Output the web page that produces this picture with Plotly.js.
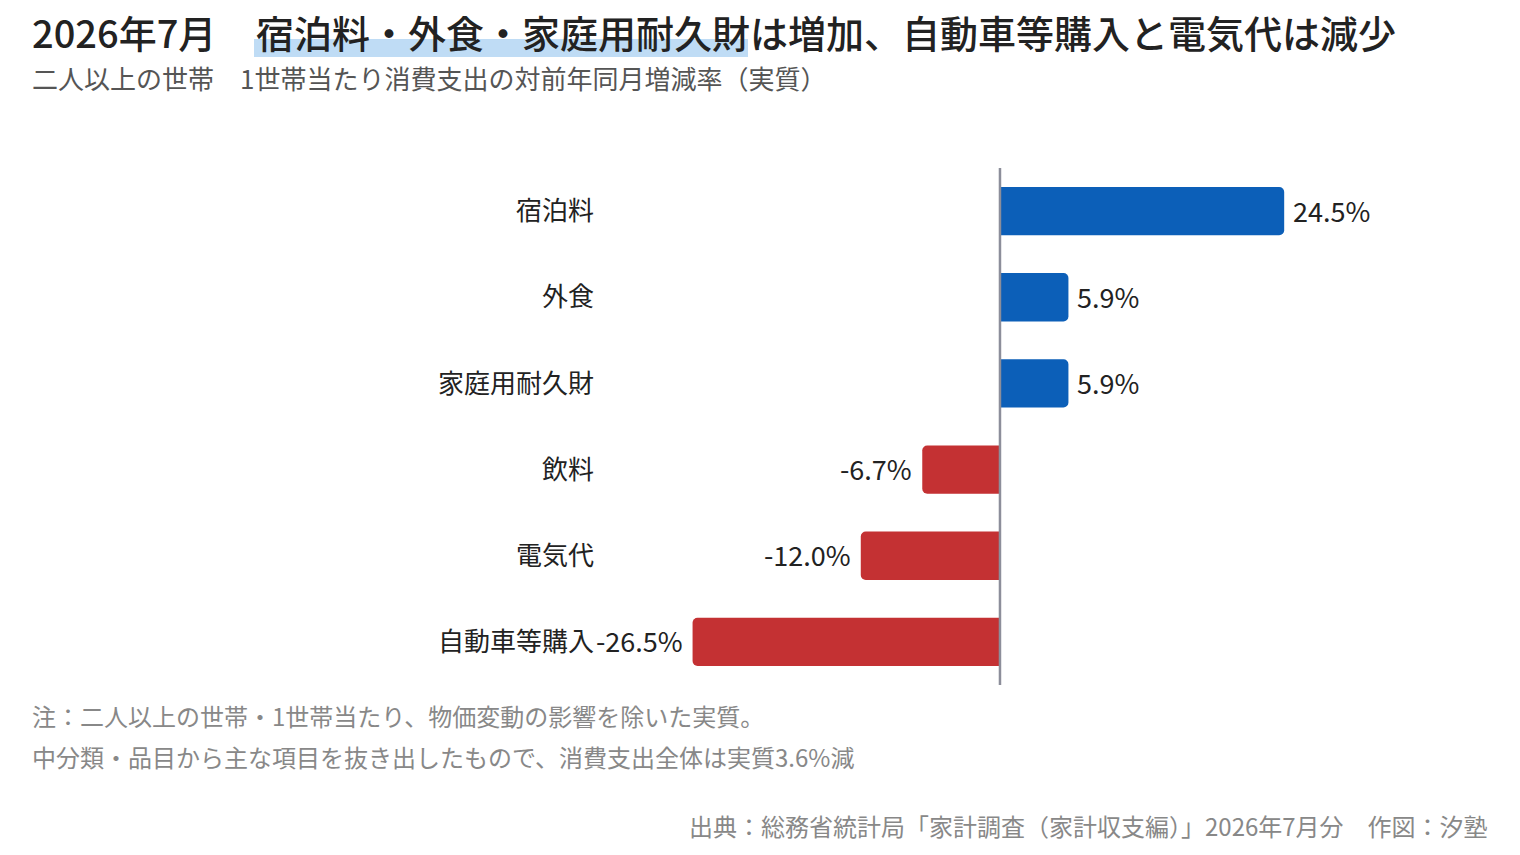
<!DOCTYPE html>
<html>
<head>
<meta charset="utf-8">
<script src="https://cdn.plot.ly/plotly-3.0.1.min.js"></script>
<style>
  html, body { margin: 0; padding: 0; background: #fff; }
  #chart { width: 1520px; height: 855px; }
</style>
</head>
<body>
<div id="chart"></div>
<script>
// 品目と対前年同月増減率（実質, %）
const categories = ['宿泊料', '外食', '家庭用耐久財', '飲料', '電気代', '自動車等購入'];
const changeRates = [24.5, 5.9, 5.9, -6.7, -12.0, -26.5];

const titleMonth = '2026年7月';
const titleMain = '宿泊料・外食・家庭用耐久財は増加、自動車等購入と電気代は減少';
const subtitle = '二人以上の世帯　1世帯当たり消費支出の対前年同月増減率（実質）';
const notes = [
  '注：二人以上の世帯・1世帯当たり、物価変動の影響を除いた実質。',
  '中分類・品目から主な項目を抜き出したもので、消費支出全体は実質3.6%減'
];
const source = '出典：総務省統計局「家計調査（家計収支編）」2026年7月分　作図：汐塾';

const W = 1520, H = 855;
const M = { l: 600, r: 56, t: 168, b: 170 };
const PW = W - M.l - M.r, PH = H - M.t - M.b;
// ピクセル位置 -> paper座標
function px(x) { return (x - M.l) / PW; }
function py(y) { return (H - M.b - y) / PH; }

const FONT = '"Noto Sans CJK JP", "Noto Sans", sans-serif';
const BLUE = '#0c5fb8', RED = '#c43133';

const barColors = changeRates.map(v => v >= 0 ? BLUE : RED);

const trace = {
  type: 'bar',
  orientation: 'h',
  x: changeRates,
  y: categories,
  marker: { color: barColors, cornerradius: 5, line: { width: 0 } },
  width: 0.56,
  hoverinfo: 'skip'
};

const annotations = [];

// 値ラベル
changeRates.forEach((v, i) => {
  annotations.push({
    x: v, y: categories[i], xref: 'x', yref: 'y',
    text: v.toFixed(1) + '%',
    showarrow: false,
    xanchor: v >= 0 ? 'left' : 'right',
    xshift: v >= 0 ? 7 : -8,
    yshift: 1,
    yanchor: 'middle',
    font: { family: FONT, size: 27, color: '#222' }
  });
});

// タイトル類
annotations.push(
  { x: px(30), y: py(32), xref: 'paper', yref: 'paper', text: titleMonth, showarrow: false,
    xanchor: 'left', yanchor: 'middle', font: { family: FONT, size: 38, color: '#222', weight: 500 } },
  { x: px(254), y: py(32), xref: 'paper', yref: 'paper', text: titleMain, showarrow: false,
    xanchor: 'left', yanchor: 'middle', font: { family: FONT, size: 38, color: '#222', weight: 500 } },
  { x: px(30), y: py(78), xref: 'paper', yref: 'paper', text: subtitle, showarrow: false,
    xanchor: 'left', yanchor: 'middle', font: { family: FONT, size: 26, color: '#555' } },
  { x: px(30), y: py(715), xref: 'paper', yref: 'paper', text: notes[0], showarrow: false,
    xanchor: 'left', yanchor: 'middle', font: { family: FONT, size: 24, color: '#888' } },
  { x: px(30), y: py(756), xref: 'paper', yref: 'paper', text: notes[1], showarrow: false,
    xanchor: 'left', yanchor: 'middle', font: { family: FONT, size: 24, color: '#888' } },
  { x: px(1490), y: py(825), xref: 'paper', yref: 'paper', text: source, showarrow: false,
    xanchor: 'right', yanchor: 'middle', font: { family: FONT, size: 24, color: '#888' } }
);

const shapes = [
  // タイトルのハイライト
  { type: 'rect', xref: 'paper', yref: 'paper', x0: px(254), x1: px(748), y0: py(57), y1: py(39),
    fillcolor: '#bfdcf5', line: { width: 0 }, layer: 'below' },
  // ゼロ線
  { type: 'line', xref: 'x', yref: 'paper', x0: 0, x1: 0, y0: 0, y1: 1,
    line: { color: '#8c8e9a', width: 2.5 }, layer: 'above' }
];

const layout = {
  width: W, height: H,
  margin: M,
  paper_bgcolor: '#fff',
  plot_bgcolor: '#fff',
  showlegend: false,
  font: { family: FONT, color: '#222' },
  xaxis: {
    range: [-34.48, 40],
    showgrid: false, zeroline: false, showline: false,
    showticklabels: false, ticks: '', fixedrange: true
  },
  yaxis: {
    type: 'category',
    autorange: 'reversed',
    showgrid: false, zeroline: false, showline: false,
    ticks: '', ticklen: 0,
    ticklabelstandoff: 5,
    tickfont: { family: FONT, size: 26, color: '#222' },
    fixedrange: true
  },
  annotations: annotations,
  shapes: shapes
};

Plotly.newPlot('chart', [trace], layout, { displayModeBar: false, staticPlot: true });
</script>
</body>
</html>
